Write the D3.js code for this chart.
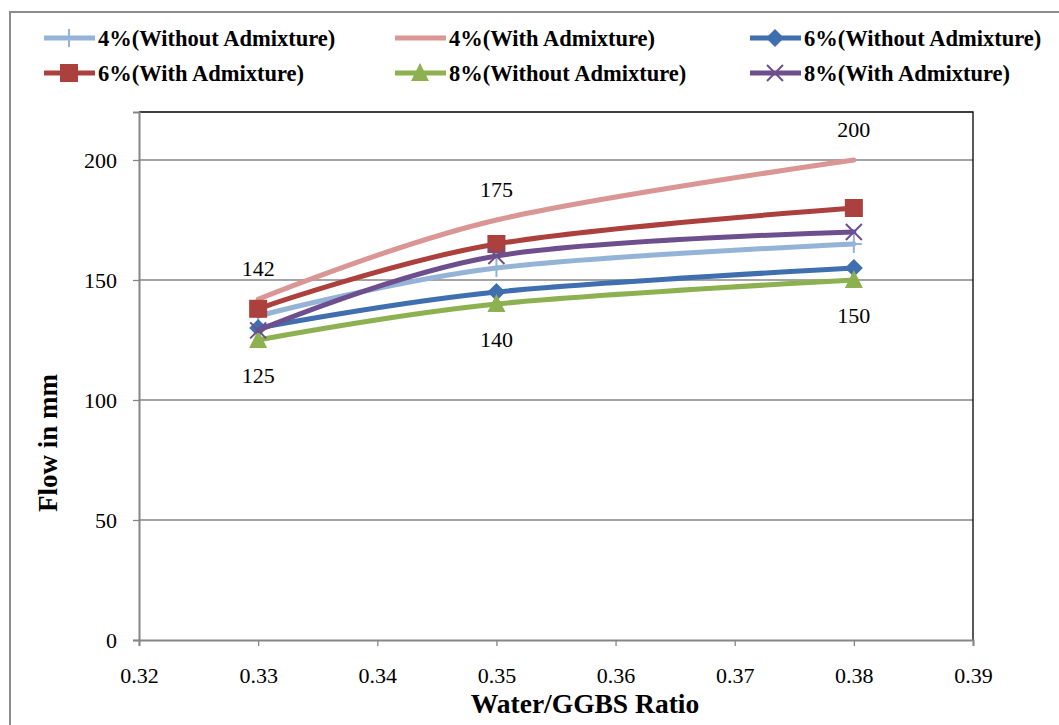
<!DOCTYPE html>
<html>
<head>
<meta charset="utf-8">
<script src="https://cdn.jsdelivr.net/npm/d3@7"></script>
<style>
  body { margin: 0; background: #fff; }
  svg { display: block; }
  svg text { font-family: "Liberation Serif", "Times New Roman", Times, "DejaVu Serif", serif; }
</style>
</head>
<body>
<svg id="chart" width="1059" height="725"></svg>
<script>
// Data
const ratios = [0.33, 0.35, 0.38];
const xTicks = [0.32, 0.33, 0.34, 0.35, 0.36, 0.37, 0.38, 0.39];
const yTicks = [0, 50, 100, 150, 200];

const names = [
  "4%(Without Admixture)",
  "4%(With Admixture)",
  "6%(Without Admixture)",
  "6%(With Admixture)",
  "8%(Without Admixture)",
  "8%(With Admixture)",
];
const flow4Without = [135, 155, 165];
const flow4With = [142, 175, 200];
const flow6Without = [130, 145, 155];
const flow6With = [138, 165, 180];
const flow8Without = [125, 140, 150];
const flow8With = [129, 160, 170];

const colors = ["#95b3d7", "#d99694", "#3f6fae", "#ac403c", "#8db150", "#6d4f8e"];
const markers = ["plus", "none", "diamond", "square", "triangle", "cross"];

const series = [flow4Without, flow4With, flow6Without, flow6With, flow8Without, flow8With]
  .map((values, i) => ({ name: names[i], values, color: colors[i], marker: markers[i] }));

const svg = d3.select("#chart");

// Outer chart frame
svg.append("path")
  .attr("d", "M10,725 L10,12 L1059,12")
  .attr("fill", "none")
  .attr("stroke", "#8c8c8c")
  .attr("stroke-width", 2);

const plot = { left: 139, right: 973, top: 112, bottom: 640 };

const x = d3.scaleLinear().domain([0.32, 0.39]).range([plot.left, plot.right]);
const y = d3.scaleLinear().domain([0, 220]).range([plot.bottom, plot.top]);

// Gridlines
svg.append("g")
  .selectAll("line")
  .data(yTicks.filter((d) => d > 0))
  .join("line")
  .attr("x1", plot.left)
  .attr("x2", plot.right)
  .attr("y1", (d) => y(d))
  .attr("y2", (d) => y(d))
  .attr("stroke", "#868686")
  .attr("stroke-width", 1.3);

// Plot area top and right border
svg.append("path")
  .attr("d", `M${plot.left},${plot.top} L${plot.right},${plot.top} L${plot.right},${plot.bottom}`)
  .attr("fill", "none")
  .attr("stroke", "#000")
  .attr("stroke-width", 1.3);

// Axes
const xAxis = svg.append("g")
  .attr("transform", `translate(0,${plot.bottom})`)
  .call(d3.axisBottom(x).tickValues(xTicks).tickFormat(d3.format(".2f")).tickSize(6).tickPadding(21));
const yAxis = svg.append("g")
  .attr("transform", `translate(${plot.left},0)`)
  .call(d3.axisLeft(y).tickValues(yTicks).tickSize(6).tickPadding(16));

[xAxis, yAxis].forEach((g) => {
  g.attr("font-family", null);
  g.select(".domain").attr("stroke", "#868686").attr("stroke-width", 2);
  g.selectAll(".tick line").attr("stroke", "#868686").attr("stroke-width", 1.3);
  g.selectAll(".tick text")
    .attr("fill", "#000")
    .attr("font-size", 22);
});

// Axis titles
svg.append("text")
  .attr("x", 585)
  .attr("y", 713)
  .attr("text-anchor", "middle")
  .attr("font-size", 27.5)
  .attr("font-weight", "bold")
  .text("Water/GGBS Ratio");

svg.append("text")
  .attr("transform", "translate(57,443) rotate(-90)")
  .attr("text-anchor", "middle")
  .attr("font-size", 27)
  .attr("font-weight", "bold")
  .text("Flow in mm");

// Lines (Excel-style smoothing)
const line = d3.line()
  .x((d, i) => x(ratios[i]))
  .y((d) => y(d))
  .curve(d3.curveCardinal.tension(0));

// Marker drawing helper
function drawMarker(g, type, color, cx, cy) {
  if (type === "square") {
    g.append("rect").attr("x", cx - 9).attr("y", cy - 9).attr("width", 18).attr("height", 18)
      .attr("fill", color);
  } else if (type === "diamond") {
    g.append("path").attr("d", `M${cx},${cy - 9} L${cx + 9},${cy} L${cx},${cy + 9} L${cx - 9},${cy} Z`)
      .attr("fill", color);
  } else if (type === "triangle") {
    g.append("path").attr("d", `M${cx},${cy - 10} L${cx + 9},${cy + 8} L${cx - 9},${cy + 8} Z`)
      .attr("fill", color);
  } else if (type === "plus") {
    g.append("path").attr("d", `M${cx - 8},${cy} L${cx + 8},${cy} M${cx},${cy - 9} L${cx},${cy + 9}`)
      .attr("stroke", color).attr("stroke-width", 2);
  } else if (type === "cross") {
    g.append("path").attr("d", `M${cx - 8},${cy - 8} L${cx + 8},${cy + 8} M${cx - 8},${cy + 8} L${cx + 8},${cy - 8}`)
      .attr("stroke", color).attr("stroke-width", 2);
  }
}

series.forEach((s) => {
  const g = svg.append("g");
  g.append("path")
    .attr("d", line(s.values))
    .attr("fill", "none")
    .attr("stroke", s.color)
    .attr("stroke-width", 5)
    .attr("stroke-linecap", "round");
  s.values.forEach((v, i) => drawMarker(g, s.marker, s.color, x(ratios[i]), y(v)));
});

// Data labels: top series above, bottom series below
svg.append("g")
  .selectAll("text")
  .data(flow4With)
  .join("text")
  .attr("x", (d, i) => x(ratios[i]))
  .attr("y", (d) => y(d) - 23)
  .attr("text-anchor", "middle")
  .attr("font-size", 22)
  .text((d) => d);

svg.append("g")
  .selectAll("text")
  .data(flow8Without)
  .join("text")
  .attr("x", (d, i) => x(ratios[i]))
  .attr("y", (d) => y(d) + 43)
  .attr("text-anchor", "middle")
  .attr("font-size", 22)
  .text((d) => d);

// Legend
const legendCols = [44, 395, 750];
const legendRows = [38, 73];
const legend = svg.append("g");
series.forEach((s, i) => {
  const lx = legendCols[i % 3];
  const ly = legendRows[Math.floor(i / 3)];
  const g = legend.append("g");
  g.append("line")
    .attr("x1", lx).attr("x2", lx + 51)
    .attr("y1", ly).attr("y2", ly)
    .attr("stroke", s.color)
    .attr("stroke-width", 5);
  drawMarker(g, s.marker, s.color, lx + 25, ly);
  g.append("text")
    .attr("x", lx + 54)
    .attr("y", ly + 8)
    .attr("font-size", 22.5)
    .attr("font-weight", "bold")
    .text(s.name);
});
</script>
</body>
</html>
